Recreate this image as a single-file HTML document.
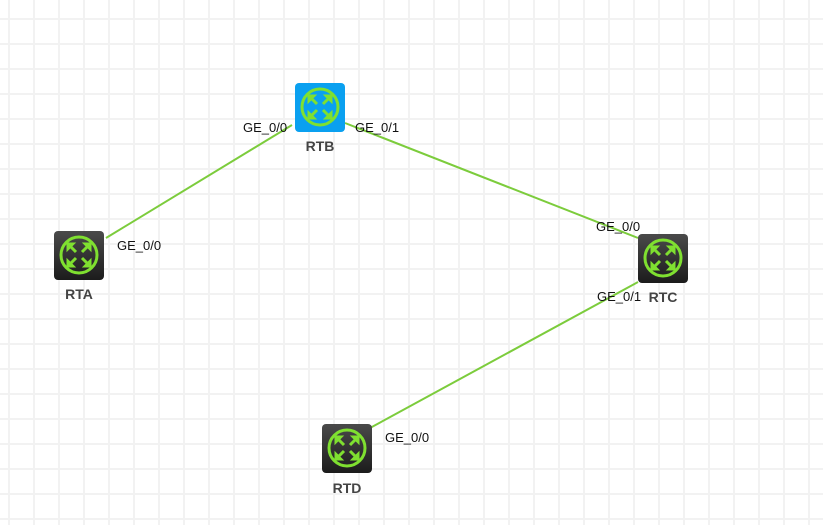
<!DOCTYPE html><html><head><style>
body{margin:0;width:823px;height:525px;overflow:hidden;background:#fff;
background-image:linear-gradient(90deg,#f2f2f2 2px,transparent 2px),linear-gradient(#f2f2f2 2px,transparent 2px);
background-size:25px 25px;background-position:8px 0,0 18px;font-family:"Liberation Sans",sans-serif}
.r{position:absolute;width:50px;height:49px;border-radius:4px;background:linear-gradient(#4a4a4a,#1c1c1c)}
.b{background:#0aa0f0}
.t{position:absolute;font-size:13px;color:#111}
.n{position:absolute;font-size:14px;font-weight:bold;color:#444;width:60px;text-align:center}
</style></head><body>
<svg width="823" height="525" style="position:absolute;left:0;top:0">
<g stroke="#7ccc3c" stroke-width="2" fill="none">
<line x1="106" y1="238" x2="292" y2="125"/>
<line x1="345" y1="123" x2="638" y2="238"/>
<line x1="638" y1="282" x2="370" y2="428"/>
</g>
<defs><g id="ic">
<circle cx="0" cy="0" r="18" stroke="#7fe030" stroke-width="3" fill="none"/>
<g stroke="#7fe030" stroke-width="3" fill="#7fe030">
<path d="M-10,-10 L-3,-3 M10,-10 L3,-3 M-10,10 L-3,3 M10,10 L3,3" fill="none"/>
<path d="M-12,-12 L-4,-12 L-12,-4Z M12,-12 L4,-12 L12,-4Z M-12,12 L-4,12 L-12,4Z M12,12 L4,12 L12,4Z" stroke-width="1"/>
</g></g></defs>
</svg>
<div class="r b" style="left:295px;top:83px"></div>
<div class="r" style="left:54px;top:231px"></div>
<div class="r" style="left:638px;top:234px"></div>
<div class="r" style="left:322px;top:424px"></div>
<svg width="823" height="525" style="position:absolute;left:0;top:0">
<use href="#ic" x="320" y="107"/><use href="#ic" x="79" y="255"/>
<use href="#ic" x="663" y="258"/><use href="#ic" x="347" y="448"/>
</svg>
<div class="n" style="left:290px;top:138px">RTB</div>
<div class="n" style="left:49px;top:286px">RTA</div>
<div class="n" style="left:633px;top:289px">RTC</div>
<div class="n" style="left:317px;top:480px">RTD</div>
<div class="t" style="left:243px;top:120px">GE_0/0</div>
<div class="t" style="left:355px;top:120px">GE_0/1</div>
<div class="t" style="left:117px;top:238px">GE_0/0</div>
<div class="t" style="left:596px;top:219px">GE_0/0</div>
<div class="t" style="left:597px;top:289px">GE_0/1</div>
<div class="t" style="left:385px;top:430px">GE_0/0</div>
</body></html>
